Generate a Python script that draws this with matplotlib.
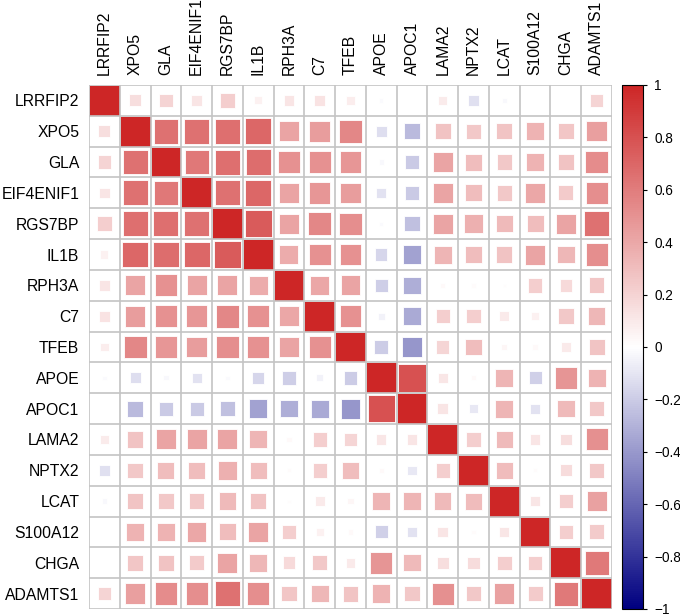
import numpy as np
import matplotlib
matplotlib.use("Agg")
import matplotlib.pyplot as plt
from matplotlib.patches import Rectangle
from matplotlib.colors import LinearSegmentedColormap, Normalize
from matplotlib.cm import ScalarMappable

genes = ["LRRFIP2", "XPO5", "GLA", "EIF4ENIF1", "RGS7BP", "IL1B", "RPH3A", "C7",
         "TFEB", "APOE", "APOC1", "LAMA2", "NPTX2", "LCAT", "S100A12", "CHGA", "ADAMTS1"]

# lower-triangle correlations (each row: values vs. earlier genes)
r_XPO5 = [0.15]
r_GLA = [0.20, 0.65]
r_EIF4ENIF1 = [0.12, 0.65, 0.62]
r_RGS7BP = [0.22, 0.66, 0.66, 0.65]
r_IL1B = [0.07, 0.70, 0.67, 0.70, 0.75]
r_RPH3A = [0.12, 0.42, 0.50, 0.42, 0.42, 0.38]
r_C7 = [0.13, 0.45, 0.50, 0.48, 0.55, 0.50, 0.40]
r_TFEB = [0.08, 0.55, 0.48, 0.45, 0.52, 0.50, 0.42, 0.50]
r_APOE = [-0.02, -0.13, -0.03, -0.11, -0.02, -0.16, -0.19, -0.05, -0.20]
r_APOC1 = [0.00, -0.27, -0.21, -0.21, -0.25, -0.36, -0.32, -0.33, -0.41, 0.80]
r_LAMA2 = [0.09, 0.28, 0.42, 0.42, 0.42, 0.34, 0.03, 0.22, 0.19, 0.11, 0.12]
r_NPTX2 = [-0.12, 0.25, 0.30, 0.30, 0.36, 0.30, 0.02, 0.22, 0.30, 0.03, -0.09, 0.22]
r_LCAT = [-0.03, 0.27, 0.25, 0.25, 0.32, 0.28, 0.01, 0.10, 0.04, 0.34, 0.34, 0.32, 0.31]
r_S100A12 = [0.00, 0.35, 0.35, 0.40, 0.30, 0.42, 0.22, 0.07, 0.03, -0.18, -0.11, 0.12, 0.02, 0.11]
r_CHGA = [0.00, 0.26, 0.28, 0.24, 0.42, 0.33, 0.17, 0.25, 0.10, 0.49, 0.32, 0.15, 0.16, 0.22, 0.22]
r_ADAMTS1 = [0.20, 0.44, 0.53, 0.52, 0.65, 0.52, 0.26, 0.33, 0.27, 0.35, 0.25, 0.51, 0.25, 0.43, 0.24, 0.61]

lower_rows = [[], r_XPO5, r_GLA, r_EIF4ENIF1, r_RGS7BP, r_IL1B, r_RPH3A, r_C7, r_TFEB,
              r_APOE, r_APOC1, r_LAMA2, r_NPTX2, r_LCAT, r_S100A12, r_CHGA, r_ADAMTS1]

cbar_ticks = [1, 0.8, 0.6, 0.4, 0.2, 0, -0.2, -0.4, -0.6, -0.8, -1]
cbar_labels = ["1", "0.8", "0.6", "0.4", "0.2", "0", "\u22120.2", "\u22120.4",
               "\u22120.6", "\u22120.8", "\u22121"]

n = len(genes)
M = np.eye(n)
for i, row in enumerate(lower_rows):
    for j, v in enumerate(row):
        M[i, j] = v
        M[j, i] = v

cmap = LinearSegmentedColormap.from_list("navy_white_red", ["#000080", "#FFFFFF", "#CD2626"], N=256)
norm = Normalize(-1, 1)

plt.rcParams['font.family'] = ['Liberation Sans', 'DejaVu Sans']

fig = plt.figure(figsize=(6.8, 6.15), dpi=100)
ax = fig.add_axes([89/680, 1-609/615, 523/680, 524/615])
ax.set_xlim(0, n)
ax.set_ylim(n, 0)

for i in range(n):
    for j in range(n):
        v = M[i, j]
        s = np.sqrt(abs(v))
        if s <= 0:
            continue
        ax.add_patch(Rectangle((j + 0.5 - s/2, i + 0.5 - s/2), s, s,
                               facecolor=cmap(norm(v)), edgecolor="white", lw=0.6, zorder=2))

for k in range(n + 1):
    ax.axhline(k, color="#C4C4C4", lw=1.2, zorder=3)
    ax.axvline(k, color="#C4C4C4", lw=1.2, zorder=3)

for sp in ax.spines.values():
    sp.set_visible(False)
ax.set_xticks(np.arange(n) + 0.5)
ax.set_yticks(np.arange(n) + 0.5)
ax.xaxis.tick_top()
ax.set_xticklabels(genes, rotation=90, fontsize=11.3)
ax.set_yticklabels(genes, fontsize=11.3)
ax.tick_params(length=0, pad=7)

cax = fig.add_axes([622/680, 1-609/615, 21/680, 524/615])
cb = fig.colorbar(ScalarMappable(norm=norm, cmap=cmap), cax=cax)
cb.set_ticks(cbar_ticks)
cb.set_ticklabels(cbar_labels)
cb.ax.tick_params(labelsize=9.8, length=3, width=0.8, pad=5)
cb.outline.set_linewidth(0.8)

fig.savefig("out.png", dpi=100)
